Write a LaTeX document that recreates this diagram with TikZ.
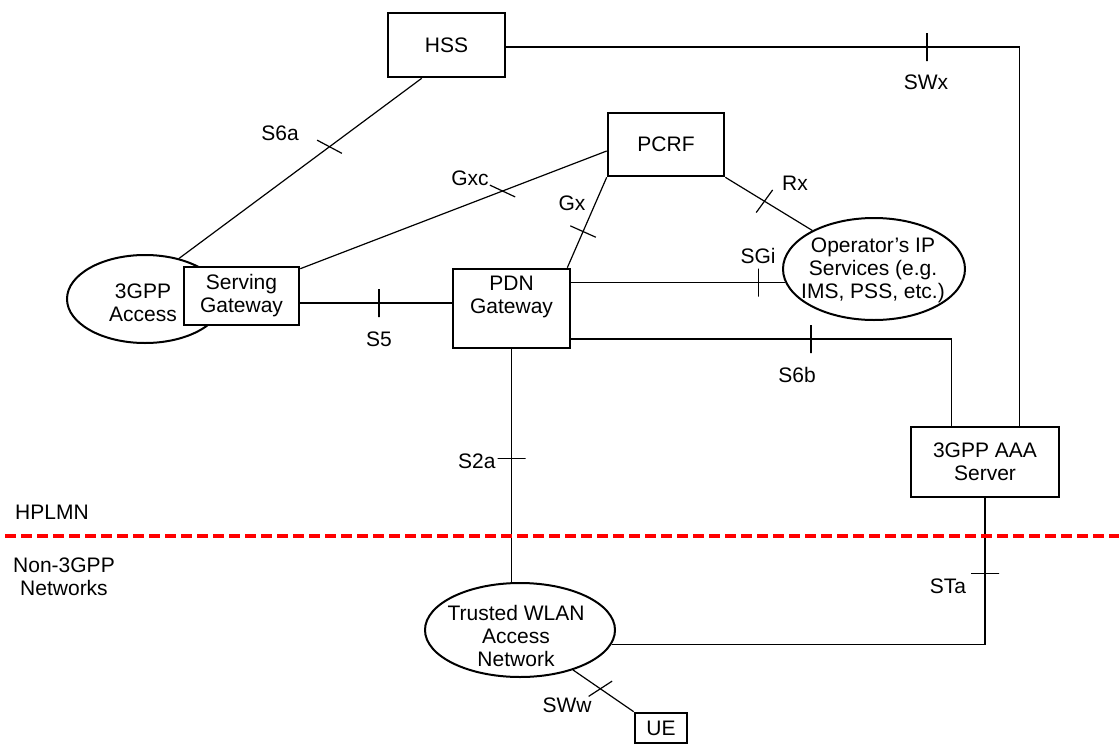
\documentclass[tikz,border=0pt]{standalone}
\usepackage{fontspec}
\setmainfont{Liberation Sans}
\usetikzlibrary{shapes.geometric,calc}
\tikzset{
  netbox/.style={draw, line width=1.3pt, fill=white, align=center, inner sep=0pt},
  netell/.style={draw, ellipse, line width=1pt, fill=white, inner sep=0pt},
  ifc/.style={inner sep=1pt},
  tk/.style={draw, line width=0.6pt, minimum width=14pt, minimum height=0pt, inner sep=0pt, outer sep=0pt},
  link/.style={line width=0.6pt}
}
\begin{document}
\begin{tikzpicture}[x=0.5pt,y=-0.5pt,font=\fontsize{10.5}{11.5}\selectfont]
\useasboundingbox (0,0) rectangle (1119,744);
\node[netell, minimum width=78pt, minimum height=44pt] (acc) at (145,299) {};
\node[align=center, inner sep=0pt] (acctxt) at (143,303) {3GPP\\Access};
\node[netbox, minimum width=57.5pt, minimum height=29pt] (sgw) at (241.5,296) {Serving\\Gateway};
\node[netbox, minimum width=58.5pt, minimum height=32pt] (hss) at (446.5,45) {HSS};
\node[netbox, minimum width=58pt, minimum height=31.5pt] (pcrf) at (666,144.5) {PCRF};
\node[netbox, minimum width=58.5pt, minimum height=39.5pt] (pgw) at (511.5,308.5) {};
\node[align=center, inner sep=0pt] (pgwtxt) at (511.5,297) {PDN\\Gateway};
\node[netell, minimum width=91pt, minimum height=51pt] (ops) at (874,269) {};
\node[align=center, inner sep=0pt] (opstxt) at (873,270) {Operator's IP\\Services (e.g.\\IMS, PSS, etc.)};
\node[netbox, minimum width=74pt, minimum height=35pt] (aaa) at (985,462) {3GPP AAA\\Server};
\node[netell, minimum width=95pt, minimum height=47pt] (wlan) at (520,630) {};
\node[align=center, inner sep=0pt] (wlantxt) at (516,636) {Trusted WLAN\\Access\\Network};
\node[netbox, minimum width=26pt, minimum height=15pt] (ue) at (661,728) {UE};

\draw[link] ($(hss.south west)+(35,0)$) -- node[tk, pos=.38, rotate=-28] (s6atk) {} (acc.50);
\node[ifc] (s6a) at (280,133) {S6a};
\draw[link] ($(sgw.north east)+(0,3)$) -- node[tk, pos=.66, rotate=-25] (gxctk) {} ($(pcrf.west)+(0,6.5)$);
\node[ifc] (gxc) at (470,178) {Gxc};
\draw[link] (pcrf.south west) -- node[tk, pos=.6, rotate=-24] (gxtk) {} ($(pgw.north east)+(-4,0)$);
\node[ifc] (gx) at (572,203) {Gx};
\draw[link] (pcrf.south east) -- node[tk, pos=.45, rotate=54] (rxtk) {} (ops.148);
\node[ifc] (rx) at (795,183) {Rx};
\draw[link] ($(pgw.east)+(0,-26)$) -- node[tk, pos=.875, rotate=90] (sgitk) {} ($(ops.west)+(3,13.5)$);
\node[ifc] (sgi) at (758,256) {SGi};
\draw[link] ($(sgw.east)+(0,7)$) -- node[tk, pos=.52, rotate=90] (s5tk) {} ($(pgw.west)+(0,-5.5)$);
\node[ifc] (s5) at (379,339) {S5};
\draw[link] ($(pgw.east)+(0,30.5)$) -| node[tk, pos=.315, rotate=90] (s6btk) {} ($(aaa.north west)+(42,0)$);
\node[ifc] (s6b) at (797,375) {S6b};
\draw[link] ($(hss.east)+(0,2)$) -| node[tk, pos=.41, rotate=90] (swxtk) {} ($(aaa.north east)+(-41,0)$);
\node[ifc] (swx) at (926,82) {SWx};
\draw[link] (pgw.south) -- node[tk, pos=.47] (s2atk) {} (pgw.south |- wlan.north);
\node[ifc, anchor=east] (s2a) at (498,461) {S2a};
\draw[link] (aaa.south) |- node[tk, pos=.257] (statk) {} (wlan.-9.5);
\node[ifc] (sta) at (948,586) {STa};
\draw[link] (wlan.-37.4) -- node[tk, pos=.45, rotate=33] (swwtk) {} (ue.north west);
\node[ifc] (sww) at (567,705) {SWw};

\node[ifc] (hplmn) at (52,512) {HPLMN};
\node[ifc, align=center] (non3gpp) at (64,577) {Non-3GPP\\Networks};
\coordinate (bleft) at (5,536);
\coordinate (bright) at (1119,536);
\draw[red, line width=1.7pt, dash pattern=on 5.5pt off 2.5pt] (bleft) -- (bright);
\end{tikzpicture}
\end{document}
